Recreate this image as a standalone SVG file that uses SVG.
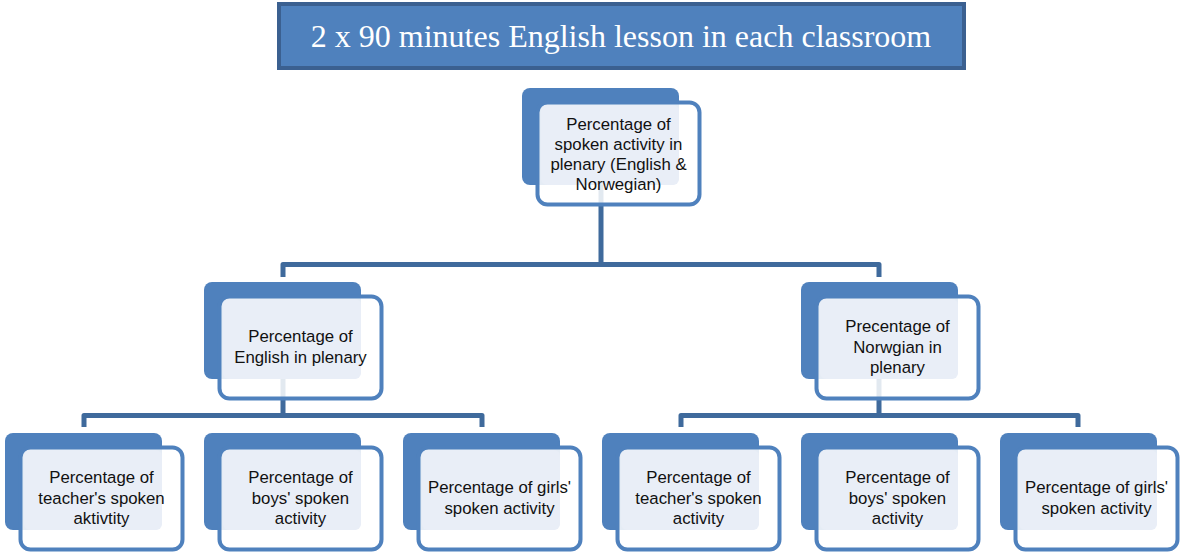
<svg xmlns="http://www.w3.org/2000/svg" width="1181" height="556" viewBox="0 0 1181 556">
<defs>
<style>
.back{fill:#4f81bd}
.front{fill:#ffffff;fill-opacity:0.85;stroke:#4f81bd;stroke-width:4}
.lite{fill:#e9eef7}
.lbl{font-family:"Liberation Sans",Arial,sans-serif;font-size:16.8px;fill:#111111;text-anchor:middle}
.conn{fill:none;stroke:#3f6a9c;stroke-width:5;stroke-linejoin:round}
</style>
<g id="shape">
<rect class="back" x="0" y="0" width="157" height="97" rx="8"/>
<rect class="front" x="15.5" y="14.5" width="162" height="102" rx="10"/>
<rect class="lite" x="19" y="17" width="138" height="80" rx="6"/>
</g>
</defs>
<rect width="1181" height="556" fill="#ffffff"/>
<g id="connectors">
<path class="conn" d="M601 185 V264.5 M283 277 V264.5 H879 V277"/>
<path class="conn" d="M283 379 V415.5 M84 427 V415.5 H482 V427"/>
<path class="conn" d="M879 379 V415.5 M681 427 V415.5 H1078 V427"/>
</g>
<g id="title">
<rect x="279" y="4" width="685" height="64" fill="#4f81bd" stroke="#3b6090" stroke-width="4"/>
<text x="621" y="47" font-family="'Liberation Serif','Times New Roman',serif" font-size="32" fill="#ffffff" text-anchor="middle">2 x 90 minutes English lesson in each classroom</text>
</g>
<g id="n-top">
<use href="#shape" x="522" y="88"/>
<text class="lbl" x="618.5" y="130">Percentage of</text>
<text class="lbl" x="618.5" y="150">spoken activity in</text>
<text class="lbl" x="618.5" y="170">plenary (English &amp;</text>
<text class="lbl" x="618.5" y="190">Norwegian)</text>
</g>
<g id="n-english">
<use href="#shape" x="204" y="282"/>
<text class="lbl" x="300.5" y="342">Percentage of</text>
<text class="lbl" x="300.5" y="363">English in plenary</text>
</g>
<g id="n-norwegian">
<use href="#shape" x="801" y="282"/>
<text class="lbl" x="897.5" y="332">Precentage of</text>
<text class="lbl" x="897.5" y="353">Norwgian in</text>
<text class="lbl" x="897.5" y="373">plenary</text>
</g>
<g id="n-teacher-en">
<use href="#shape" x="5" y="433"/>
<text class="lbl" x="101.5" y="483">Percentage of</text>
<text class="lbl" x="101.5" y="504">teacher's spoken</text>
<text class="lbl" x="101.5" y="524">aktivtity</text>
</g>
<g id="n-boys-en">
<use href="#shape" x="204" y="433"/>
<text class="lbl" x="300.5" y="483">Percentage of</text>
<text class="lbl" x="300.5" y="504">boys' spoken</text>
<text class="lbl" x="300.5" y="524">activity</text>
</g>
<g id="n-girls-en">
<use href="#shape" x="403" y="433"/>
<text class="lbl" x="499.5" y="493">Percentage of girls'</text>
<text class="lbl" x="499.5" y="514">spoken activity</text>
</g>
<g id="n-teacher-no">
<use href="#shape" x="602" y="433"/>
<text class="lbl" x="698.5" y="483">Percentage of</text>
<text class="lbl" x="698.5" y="504">teacher's spoken</text>
<text class="lbl" x="698.5" y="524">activity</text>
</g>
<g id="n-boys-no">
<use href="#shape" x="801" y="433"/>
<text class="lbl" x="897.5" y="483">Percentage of</text>
<text class="lbl" x="897.5" y="504">boys' spoken</text>
<text class="lbl" x="897.5" y="524">activity</text>
</g>
<g id="n-girls-no">
<use href="#shape" x="1000" y="433"/>
<text class="lbl" x="1096.5" y="493">Percentage of girls'</text>
<text class="lbl" x="1096.5" y="514">spoken activity</text>
</g>
</svg>
